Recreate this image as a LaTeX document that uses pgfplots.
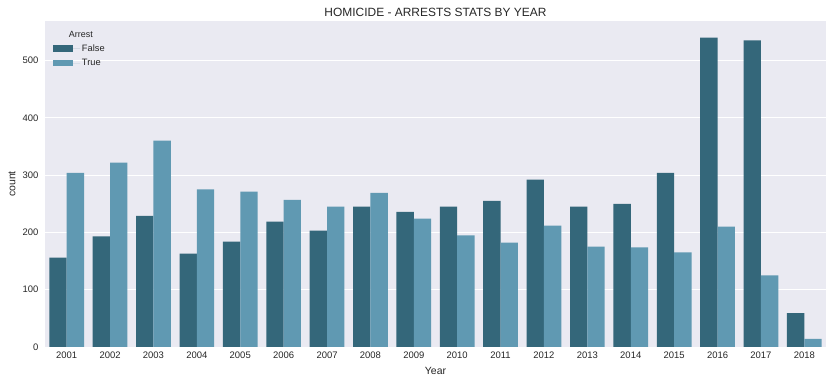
\documentclass[border=0pt]{standalone}
\usepackage{fontspec}
\setmainfont{Liberation Sans}
\usepackage{pgfplots}
\pgfplotsset{compat=1.18}
\definecolor{bgc}{HTML}{EAEAF2}
\definecolor{cfalse}{RGB}{52,103,122}
\definecolor{ctrue}{RGB}{96,153,178}
\definecolor{txt}{HTML}{262626}
\begin{document}
\begin{tikzpicture}
\begin{axis}[
  at={(0,0)}, anchor=south west,
  scale only axis, width=781bp, height=326bp,
  xmin=-0.5, xmax=17.5, ymin=0, ymax=569,
  ybar=0pt, bar width=0.4,
  axis background/.style={fill=bgc},
  axis line style={draw=none},
  major tick length=0pt,
  ymajorgrids, grid style={white, line width=1bp},
  ytick={0,100,200,300,400,500},
  xtick={0,...,17},
  xticklabels={2001,2002,2003,2004,2005,2006,2007,2008,2009,2010,2011,2012,2013,2014,2015,2016,2017,2018},
  /pgf/number format/assume math mode=true,
  ticklabel style={font=\fontsize{9.5}{11}\selectfont, text=txt},
  yticklabel style={xshift=-3bp},
  xticklabel style={yshift=-1bp},
  xlabel={Year}, ylabel={count},
  label style={font=\fontsize{10.5}{12}\selectfont, text=txt},
  xlabel style={at={(axis description cs:0.5,0)}, anchor=center, yshift=-24bp},
  ylabel style={at={(axis description cs:0,0.5)}, anchor=center, rotate=0, xshift=0bp, yshift=33bp},
  title={HOMICIDE - ARRESTS STATS BY YEAR},
  title style={font=\fontsize{12}{14}\selectfont, text=txt, at={(axis description cs:0.5,1)}, anchor=center, yshift=3bp},
  legend style={at={(axis description cs:0.01,0.935)}, anchor=north west, draw=none, fill=none,
    font=\fontsize{9.3}{11}\selectfont, text=txt, row sep=2.5bp, inner sep=0pt},
  legend cell align=left,
  legend image code/.code={\fill[#1,draw=none] (0bp,-3.2bp) rectangle (20bp,3.2bp); \path (0bp,0bp) -- (27bp,0bp);},
]
\addplot[fill=cfalse, draw=none] coordinates {
(0,156) (1,193) (2,229) (3,163) (4,184) (5,219) (6,203) (7,245) (8,236)
(9,245) (10,255) (11,292) (12,245) (13,250) (14,304) (15,540) (16,535) (17,59)};
\addlegendentry{False}
\addplot[fill=ctrue, draw=none] coordinates {
(0,304) (1,322) (2,360) (3,275) (4,271) (5,257) (6,245) (7,269) (8,224)
(9,195) (10,182) (11,212) (12,175) (13,174) (14,165) (15,210) (16,125) (17,14)};
\addlegendentry{True}
\node[font=\fontsize{9}{11}\selectfont, text=txt, anchor=center] at (axis description cs:0.046,0.96) {Arrest};
\end{axis}
\pgfresetboundingbox
\useasboundingbox (-45bp,-37bp) rectangle (788bp,347bp);
\end{tikzpicture}
\end{document}
